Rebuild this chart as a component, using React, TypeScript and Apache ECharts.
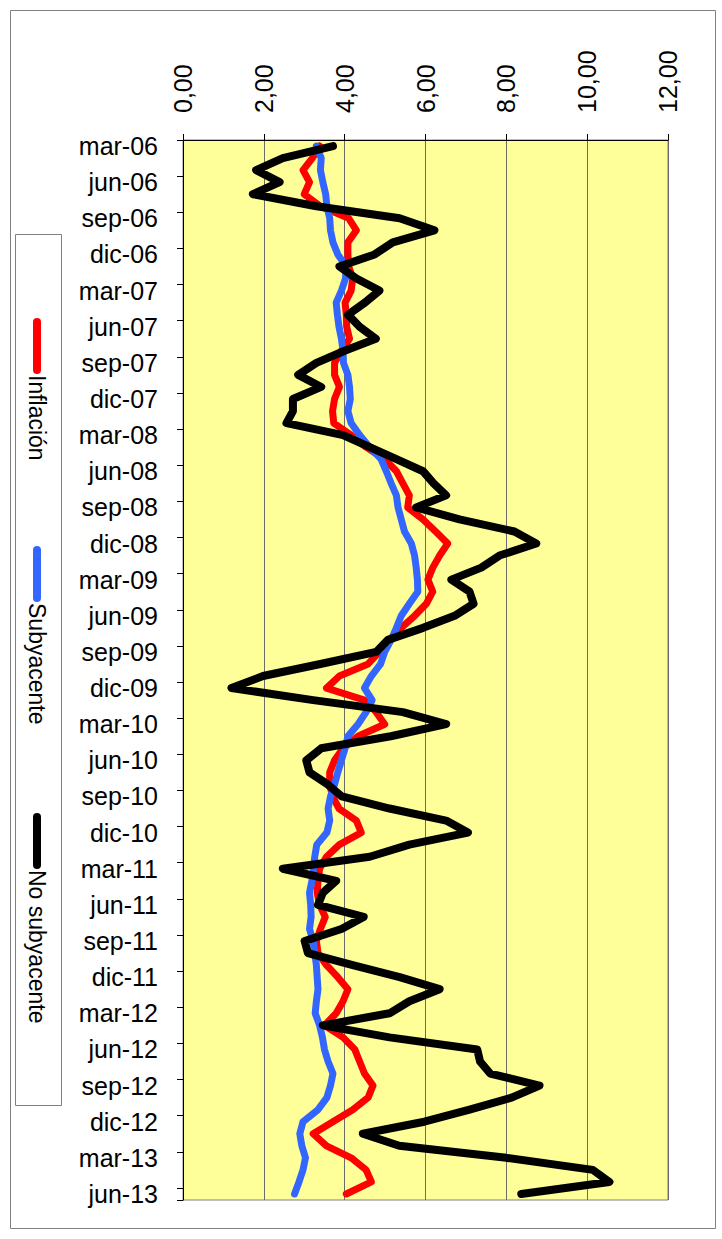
import React, { useEffect, useRef } from "react";
import * as echarts from "echarts";

const MONTHS = ["ene", "feb", "mar", "abr", "may", "jun", "jul", "ago", "sep", "oct", "nov", "dic"];

// monthly categories mar-06 .. jun-13
const categories: string[] = [];
for (let y = 2006; y <= 2013; y++) {
  for (let m = 0; m < 12; m++) {
    if (y === 2006 && m < 2) continue;
    if (y === 2013 && m > 5) continue;
    categories.push(`${MONTHS[m]}-${String(y).slice(2)}`);
  }
}

const inflacion = [
  3.38, 3.2, 2.97, 3.13, 3.0, 3.4, 4.1, 4.29, 4.08, 4.08,
  4.1, 4.2, 4.16, 4.01, 4.04, 4.05, 4.12, 3.92, 3.75, 3.75,
  3.87, 3.75, 3.7, 3.73, 4.16, 4.53, 4.99, 5.28, 5.44, 5.6,
  5.56, 5.94, 6.25, 6.55, 6.35, 6.18, 6.06, 6.18, 6.02, 5.73,
  5.4, 5.11, 4.86, 4.58, 3.87, 3.55, 4.49, 4.78, 4.99, 4.33,
  3.96, 3.75, 3.63, 3.63, 3.7, 3.86, 4.29, 4.41, 3.87, 3.55,
  3.38, 3.34, 3.32, 3.38, 3.52, 3.4, 3.3, 3.34, 3.55, 3.83,
  4.08, 3.96, 3.79, 3.5, 3.96, 4.25, 4.37, 4.49, 4.7, 4.58,
  4.2, 3.71, 3.22, 3.55, 4.16, 4.53, 4.66, 4.04,
];

const subyacente = [
  3.3, 3.42, 3.4, 3.46, 3.53, 3.56, 3.63, 3.65, 3.71, 3.83,
  4.04, 4.02, 3.92, 3.79, 3.82, 3.86, 3.92, 3.96, 3.97, 4.08,
  4.12, 4.14, 4.08, 4.16, 4.37, 4.62, 4.9, 5.03, 5.15, 5.28,
  5.32, 5.4, 5.48, 5.65, 5.73, 5.77, 5.8, 5.81, 5.6, 5.4,
  5.28, 5.15, 4.99, 4.89, 4.66, 4.49, 4.68, 4.53, 4.33, 4.08,
  4.01, 3.92, 3.83, 3.75, 3.65, 3.59, 3.63, 3.56, 3.31, 3.26,
  3.23, 3.19, 3.13, 3.16, 3.17, 3.13, 3.22, 3.26, 3.3, 3.32,
  3.34, 3.3, 3.27, 3.38, 3.45, 3.5, 3.59, 3.71, 3.65, 3.56,
  3.34, 2.97, 2.89, 2.94, 3.03, 2.97, 2.87, 2.76,
];

const noSubyacente = [
  3.71, 2.47, 1.81, 2.39, 1.73, 3.3, 5.36, 6.22, 5.19, 4.74,
  3.87, 4.29, 4.86, 4.5, 4.08, 4.37, 4.77, 4.0, 3.3, 2.85,
  3.42, 2.72, 2.72, 2.56, 3.96, 4.62, 5.28, 5.94, 6.2, 6.51,
  5.77, 6.84, 8.2, 8.74, 7.83, 7.38, 6.64, 7.09, 7.19, 6.72,
  5.94, 5.07, 4.78, 3.4, 1.98, 1.2, 3.22, 5.44, 6.51, 5.14,
  3.42, 3.05, 3.13, 3.58, 3.93, 5.11, 6.51, 7.05, 5.6, 4.62,
  2.47, 3.79, 3.46, 3.34, 4.47, 3.92, 3.01, 3.09, 4.2, 5.36,
  6.35, 5.6, 5.11, 3.46, 5.11, 7.28, 7.35, 7.6, 8.82, 8.13,
  7.09, 5.97, 4.45, 5.35, 8.0, 10.14, 10.55, 8.37,
];

const seriesNames = ["Inflación", "Subyacente", "No subyacente"];
const seriesColors = ["#FF0000", "#3366FF", "#000000"];

const FONT = "'Liberation Sans', Arial, sans-serif";

export default function App() {
  const ref = useRef<HTMLDivElement>(null);

  useEffect(() => {
    document.body.style.margin = "0";
    if (!ref.current) return;
    const chart = echarts.init(ref.current, undefined, { renderer: "svg" });
    const dataSets = [inflacion, subyacente, noSubyacente];
    const widths = [7, 7, 8];

    const legendStarts = [318, 546, 813];
    const legendGraphics: any[] = [];
    seriesNames.forEach((name, k) => {
      const y0 = legendStarts[k];
      legendGraphics.push({
        type: "line",
        shape: { x1: 37, y1: y0 + 4, x2: 37, y2: y0 + 52 },
        style: { stroke: seriesColors[k], lineWidth: 8, lineCap: "round" },
      });
      legendGraphics.push({
        type: "text",
        x: 37,
        y: y0 + 57,
        rotation: -Math.PI / 2,
        style: {
          text: name,
          fill: "#000",
          font: `23px ${FONT}`,
          textAlign: "left",
          textVerticalAlign: "middle",
        },
      });
    });

    chart.setOption({
      animation: false,
      textStyle: { fontFamily: FONT },
      grid: {
        left: 183,
        top: 140,
        right: 54,
        bottom: 39,
        show: true,
        backgroundColor: "#FFFF99",
        borderColor: "#808080",
        borderWidth: 1,
      },
      graphic: [
        {
          type: "rect",
          shape: { x: 10.5, y: 10.5, width: 705, height: 1218 },
          style: { fill: "none", stroke: "#808080", lineWidth: 1 },
          silent: true,
        },
        {
          type: "rect",
          shape: { x: 15.5, y: 234.5, width: 46, height: 871 },
          style: { fill: "#fff", stroke: "#808080", lineWidth: 1 },
          silent: true,
        },
        ...legendGraphics,
      ],
      xAxis: {
        type: "value",
        position: "top",
        min: 0,
        max: 12,
        interval: 2,
        axisLine: { show: true, lineStyle: { color: "#000", width: 1 } },
        axisTick: { show: true, length: 6, lineStyle: { color: "#000" } },
        splitLine: { show: true, lineStyle: { color: "#6b6b6b", width: 1 } },
        axisLabel: {
          rotate: -90,
          margin: 27,
          fontSize: 25,
          color: "#000",
          fontFamily: FONT,
          formatter: (v: number) => v.toFixed(2).replace(".", ","),
        },
      },
      yAxis: {
        type: "category",
        inverse: true,
        data: categories,
        boundaryGap: true,
        axisLine: { show: true, lineStyle: { color: "#000", width: 1 } },
        axisTick: { show: true, interval: 2, length: 6, lineStyle: { color: "#000" } },
        axisLabel: {
          interval: 2,
          margin: 25,
          fontSize: 25,
          color: "#000",
          fontFamily: FONT,
        },
        splitLine: { show: false },
      },
      series: seriesNames.map((name, k) => ({
        name,
        type: "line",
        data: dataSets[k],
        showSymbol: false,
        symbol: "none",
        lineStyle: { color: seriesColors[k], width: widths[k], cap: "round", join: "round" },
        itemStyle: { color: seriesColors[k] },
        z: 2 + k,
      })),
    });
    return () => chart.dispose();
  }, []);

  return <div ref={ref} style={{ width: 722, height: 1239 }} />;
}
